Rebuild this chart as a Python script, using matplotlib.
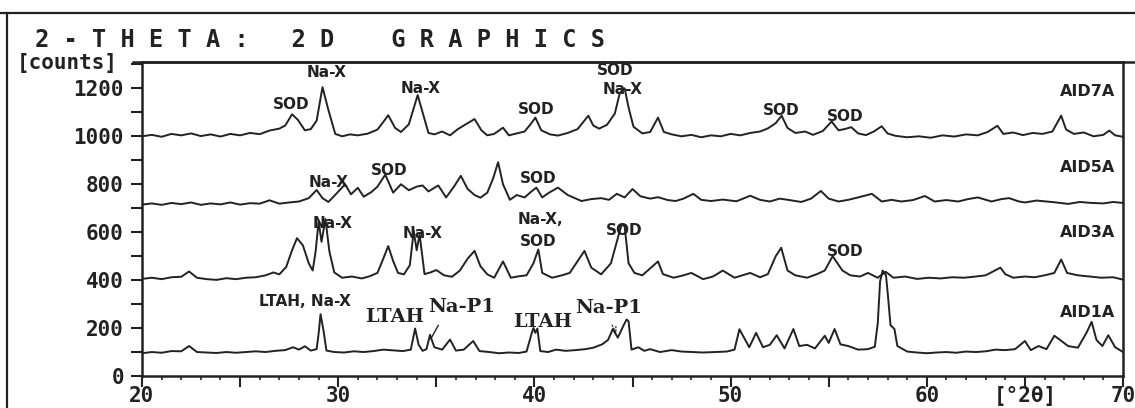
import matplotlib
matplotlib.use("Agg")
import matplotlib.pyplot as plt
from matplotlib.lines import Line2D
from matplotlib.ticker import MultipleLocator, FuncFormatter

# (2-theta [deg], counts), one list per sample
aid7a = [(20.0, 1000), (20.5, 1006), (21.0, 998), (21.5, 1010), (22.0, 1004), (22.5, 1012),
         (23.0, 1001), (23.5, 1008), (24.0, 999), (24.5, 1010), (25.0, 1004), (25.5, 1014),
         (26.0, 1009), (26.5, 1024), (27.0, 1032), (27.3, 1045), (27.65, 1092), (27.95, 1068),
         (28.3, 1025), (28.6, 1030), (28.9, 1065), (29.2, 1205), (29.5, 1110), (29.85, 1010),
         (30.2, 1000), (30.6, 1008), (31.0, 1004), (31.5, 1011), (32.0, 1028), (32.3, 1060),
         (32.55, 1088), (32.9, 1035), (33.2, 1018), (33.6, 1050), (34.05, 1172), (34.3, 1100),
         (34.6, 1014), (34.9, 1008), (35.3, 1020), (35.7, 1004), (36.1, 1030), (36.5, 1050),
         (36.95, 1072), (37.3, 1025), (37.6, 1004), (37.95, 1010), (38.4, 1036), (38.7, 1004),
         (39.1, 1012), (39.5, 1020), (39.8, 1050), (40.05, 1078), (40.35, 1025), (40.8, 1008),
         (41.2, 1003), (41.7, 1014), (42.2, 1030), (42.75, 1086), (43.0, 1045), (43.3, 1032),
         (43.7, 1048), (44.1, 1095), (44.35, 1180), (44.6, 1200), (44.8, 1120), (45.05, 1040),
         (45.5, 1012), (45.9, 1018), (46.3, 1078), (46.6, 1018), (47.0, 1008), (47.5, 1000),
         (48.0, 1006), (48.5, 996), (49.0, 1004), (49.5, 1000), (50.0, 1010), (50.5, 1004),
         (51.0, 1014), (51.5, 1020), (51.9, 1033), (52.3, 1055), (52.6, 1086), (52.9, 1035),
         (53.3, 1014), (53.8, 1020), (54.2, 1006), (54.7, 1022), (55.15, 1062), (55.5, 1025),
         (55.8, 1030), (56.15, 1038), (56.5, 1012), (56.9, 1005), (57.3, 1020), (57.7, 1042),
         (58.0, 1012), (58.4, 1002), (59.0, 996), (59.6, 1000), (60.2, 994), (60.8, 1004),
         (61.4, 999), (62.0, 1008), (62.6, 1004), (63.1, 1018), (63.6, 1044), (63.9, 1010),
         (64.4, 1016), (64.9, 1005), (65.4, 1014), (65.9, 1010), (66.4, 1020), (66.85, 1086),
         (67.1, 1028), (67.5, 1010), (68.0, 1016), (68.5, 1000), (69.0, 1006), (69.3, 1024),
         (69.6, 1004), (70.0, 998)]

aid5a = [(20.0, 715), (20.5, 720), (21.0, 714), (21.5, 722), (22.0, 717), (22.5, 724),
         (23.0, 714), (23.5, 720), (24.0, 716), (24.5, 724), (25.0, 715), (25.5, 721),
         (26.0, 719), (26.5, 733), (27.0, 719), (27.5, 724), (28.0, 728), (28.5, 742),
         (28.9, 776), (29.2, 742), (29.5, 726), (29.9, 760), (30.35, 800), (30.65, 758),
         (31.0, 785), (31.3, 748), (31.7, 768), (32.0, 790), (32.4, 840), (32.8, 765),
         (33.2, 800), (33.6, 775), (34.0, 790), (34.3, 795), (34.6, 770), (35.1, 795),
         (35.5, 745), (35.9, 790), (36.25, 835), (36.6, 780), (36.95, 755), (37.25, 744),
         (37.6, 765), (37.9, 825), (38.15, 892), (38.4, 800), (38.75, 735), (39.1, 755),
         (39.5, 745), (39.85, 770), (40.1, 786), (40.4, 745), (40.75, 765), (41.2, 786),
         (41.7, 755), (42.4, 730), (42.9, 738), (43.4, 742), (43.8, 735), (44.2, 760),
         (44.6, 745), (45.0, 780), (45.4, 750), (45.9, 740), (46.3, 746), (46.8, 734),
         (47.2, 730), (47.6, 740), (48.1, 760), (48.5, 735), (49.0, 730), (49.6, 736),
         (50.3, 729), (51.0, 752), (51.5, 735), (52.0, 728), (52.5, 740), (53.0, 734),
         (53.6, 726), (54.1, 740), (54.6, 772), (55.0, 740), (55.5, 728), (56.0, 735),
         (56.5, 745), (57.2, 760), (57.7, 728), (58.2, 735), (58.7, 728), (59.3, 734),
         (59.9, 751), (60.4, 728), (61.0, 734), (61.6, 728), (62.1, 738), (62.6, 745),
         (63.3, 728), (63.8, 738), (64.2, 742), (64.7, 728), (65.0, 724), (65.6, 732),
         (66.1, 728), (66.6, 724), (67.2, 718), (67.8, 726), (68.4, 722), (69.0, 720),
         (69.5, 726), (70.0, 722)]

aid3a = [(20.0, 405), (20.5, 410), (21.0, 404), (21.5, 412), (22.0, 414), (22.4, 436),
         (22.8, 410), (23.3, 404), (23.8, 401), (24.3, 408), (24.8, 404), (25.3, 410),
         (25.8, 412), (26.3, 420), (26.7, 432), (27.0, 424), (27.35, 455), (27.65, 525),
         (27.9, 575), (28.2, 545), (28.5, 470), (28.7, 440), (28.85, 520), (29.0, 645),
         (29.15, 560), (29.35, 655), (29.55, 520), (29.8, 432), (30.2, 410), (30.7, 415),
         (31.2, 407), (31.6, 416), (32.0, 430), (32.3, 490), (32.55, 542), (32.8, 480),
         (33.05, 430), (33.35, 424), (33.65, 462), (33.85, 605), (34.0, 525), (34.15, 590),
         (34.4, 425), (34.7, 432), (35.0, 442), (35.4, 420), (35.8, 414), (36.2, 440),
         (36.6, 490), (36.95, 522), (37.25, 458), (37.6, 424), (37.95, 410), (38.4, 478),
         (38.8, 410), (39.2, 416), (39.6, 420), (39.95, 470), (40.2, 528), (40.4, 430),
         (40.9, 410), (41.4, 420), (41.8, 430), (42.25, 485), (42.55, 522), (42.9, 452),
         (43.4, 424), (43.9, 470), (44.3, 590), (44.45, 632), (44.6, 625), (44.8, 470),
         (45.1, 430), (45.5, 420), (46.3, 478), (46.55, 425), (47.1, 410), (47.6, 420),
         (48.0, 430), (48.6, 404), (49.1, 415), (49.6, 440), (50.2, 410), (50.6, 420),
         (51.0, 430), (51.5, 412), (51.9, 425), (52.3, 500), (52.58, 535), (52.9, 440),
         (53.3, 420), (53.9, 410), (54.4, 425), (54.8, 440), (55.2, 500), (55.7, 440),
         (56.1, 420), (56.6, 415), (57.0, 430), (57.5, 410), (57.9, 435), (58.3, 410),
         (58.9, 415), (59.5, 405), (60.1, 410), (60.7, 407), (61.3, 412), (61.9, 410),
         (62.5, 415), (63.0, 420), (63.75, 452), (64.0, 425), (64.4, 410), (65.0, 415),
         (65.5, 412), (66.0, 420), (66.5, 430), (66.85, 486), (67.15, 430), (67.7, 420),
         (68.3, 415), (68.9, 410), (69.5, 412), (70.0, 402)]

aid1a = [(20.0, 95), (20.5, 100), (21.0, 97), (21.5, 104), (22.0, 103), (22.4, 125),
         (22.8, 100), (23.3, 98), (23.8, 96), (24.3, 100), (24.8, 97), (25.3, 100),
         (25.8, 103), (26.3, 100), (26.8, 105), (27.3, 108), (27.7, 120), (28.0, 110),
         (28.3, 124), (28.6, 106), (28.9, 112), (29.0, 175), (29.1, 258), (29.25, 190),
         (29.4, 106), (29.8, 100), (30.3, 98), (30.8, 103), (31.3, 100), (31.8, 104),
         (32.3, 110), (32.8, 107), (33.3, 104), (33.7, 110), (33.92, 198), (34.1, 130),
         (34.3, 105), (34.5, 112), (34.68, 172), (34.9, 120), (35.3, 110), (35.7, 152),
         (36.0, 106), (36.4, 110), (36.88, 146), (37.2, 104), (37.7, 100), (38.2, 95),
         (38.7, 98), (39.2, 96), (39.6, 102), (39.85, 175), (39.95, 200), (40.05, 180),
         (40.15, 198), (40.3, 104), (40.7, 100), (41.1, 110), (41.6, 105), (42.1, 108),
         (42.6, 112), (43.0, 118), (43.45, 132), (43.75, 150), (44.0, 196), (44.25, 160),
         (44.55, 212), (44.7, 236), (44.8, 228), (44.95, 110), (45.3, 120), (45.6, 105),
         (45.9, 112), (46.4, 100), (47.0, 108), (47.5, 102), (48.0, 100), (48.6, 98),
         (49.2, 100), (49.8, 102), (50.2, 110), (50.45, 195), (50.95, 120), (51.3, 180),
         (51.65, 120), (52.0, 130), (52.35, 170), (52.75, 115), (53.2, 196), (53.5, 125),
         (53.9, 130), (54.3, 115), (54.8, 168), (55.0, 138), (55.3, 196), (55.6, 132),
         (56.0, 125), (56.5, 110), (57.0, 112), (57.35, 122), (57.5, 220), (57.62, 395),
         (57.75, 440), (57.92, 420), (58.02, 335), (58.15, 212), (58.35, 196), (58.5, 125),
         (59.0, 102), (59.5, 98), (60.0, 95), (60.5, 98), (61.0, 100), (61.5, 97),
         (62.0, 102), (62.5, 100), (63.0, 103), (63.5, 110), (64.0, 108), (64.5, 112),
         (65.0, 146), (65.3, 108), (65.7, 125), (66.1, 112), (66.5, 168), (66.8, 150),
         (67.2, 125), (67.7, 118), (68.15, 182), (68.4, 226), (68.65, 150), (68.95, 125),
         (69.25, 170), (69.6, 120), (70.0, 100)]

samples = [("AID7A", aid7a, 1189), ("AID5A", aid5a, 868),
           ("AID3A", aid3a, 599), ("AID1A", aid1a, 267)]

# phase labels: (text, 2-theta, counts)
sans_labels = [("SOD", 27.6, 1134), ("Na-X", 29.4, 1268), ("Na-X", 34.2, 1200),
               ("SOD", 40.1, 1113), ("SOD", 44.1, 1273), ("Na-X", 44.5, 1197),
               ("SOD", 52.6, 1109), ("SOD", 55.85, 1084),
               ("Na-X", 29.5, 809), ("SOD", 32.6, 856), ("SOD", 40.2, 822),
               ("Na-X", 29.7, 637), ("Na-X", 34.3, 594), ("Na-X,", 40.3, 653),
               ("SOD", 40.2, 561), ("SOD", 44.6, 608), ("SOD", 55.85, 519),
               ("LTAH, Na-X", 28.3, 309)]
serif_labels = [("LTAH", 32.9, 246), ("Na-P1", 36.3, 288),
                ("LTAH", 40.4, 225), ("Na-P1", 43.8, 283)]

ink = "#222222"
mono = "DejaVu Sans Mono"

fig = plt.figure(figsize=(11.35, 4.08), dpi=100)
ax = fig.add_axes([142 / 1135, 1 - 376 / 408, (1123 - 142) / 1135, (376 - 62) / 408])

for name, pts, label_y in samples:
    xs = [p[0] for p in pts]
    ys = [p[1] for p in pts]
    ax.plot(xs, ys, color=ink, lw=1.4)
    ax.text(69.6, label_y, name, ha="right", va="center", fontsize=11.5,
            fontweight="bold", color=ink)

for txt, x, y in sans_labels:
    ax.text(x, y, txt, ha="center", va="center", fontsize=11, fontweight="bold", color=ink)
for txt, x, y in serif_labels:
    ax.text(x, y, txt, ha="center", va="center", fontsize=14, fontweight="bold",
            family="DejaVu Serif", color=ink)

# pointers next to the Na-P1 labels
ax.plot([35.1, 34.72], [211, 155], color=ink, lw=1)
ax.annotate("", xy=(44.25, 165), xytext=(43.9, 222),
            arrowprops=dict(arrowstyle="->", color=ink, lw=0.9, linestyle=":"))

ax.set_xlim(20, 70)
ax.set_ylim(0, 1310)

def xfmt(v, pos):
    v = int(round(v))
    if v == 65:
        return "[°2θ]"
    return str(v) if v % 10 == 0 else ""

ax.xaxis.set_major_locator(MultipleLocator(5))
ax.xaxis.set_minor_locator(MultipleLocator(1))
ax.xaxis.set_major_formatter(FuncFormatter(xfmt))
ax.yaxis.set_major_locator(MultipleLocator(200))
ax.yaxis.set_minor_locator(MultipleLocator(100))
ax.tick_params(axis="x", which="major", direction="out", length=8, width=1.5, pad=-1,
               colors=ink, labelsize=15)
ax.tick_params(axis="x", which="minor", direction="out", length=3, width=1.2, colors=ink)
ax.tick_params(axis="y", which="both", direction="out", length=8, width=1.5, pad=5,
               colors=ink, labelsize=15)
for lab in ax.get_xticklabels() + ax.get_yticklabels():
    lab.set_family(mono)
    lab.set_fontweight("bold")
for sp in ax.spines.values():
    sp.set_linewidth(1.8)
    sp.set_color(ink)

# frame of the old screen printout
fig.add_artist(Line2D([0, 1], [1 - 13 / 408] * 2, color=ink, lw=1.6))
fig.add_artist(Line2D([7 / 1135] * 2, [0, 1 - 13 / 408], color=ink, lw=1.6))
fig.add_artist(Line2D([133 / 1135, 1], [1 - 62 / 408] * 2, color=ink, lw=1.8))

fig.text(35 / 1135, 1 - 40 / 408, "2 - T H E T A :   2 D    G R A P H I C S",
         ha="left", va="center", family=mono, fontweight="bold", fontsize=17, color=ink)
fig.text(67 / 1135, 1 - 63 / 408, "[counts]", ha="center", va="center",
         family=mono, fontweight="bold", fontsize=15, color=ink)

fig.savefig("out.png", dpi=100)
